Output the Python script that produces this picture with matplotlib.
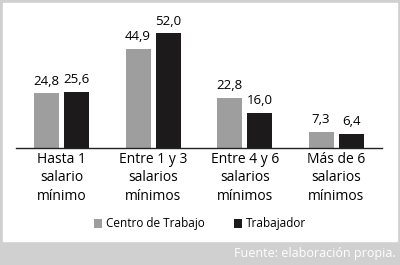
import numpy as np
import matplotlib.pyplot as plt
from matplotlib.patches import Rectangle

# datos
categorias = ['Hasta 1\nsalario\nmínimo', 'Entre 1 y 3\nsalarios\nmínimos',
              'Entre 4 y 6\nsalarios\nmínimos', 'Más de 6\nsalarios\nmínimos']
centro_trabajo = [24.8, 44.9, 22.8, 7.3]
trabajador = [25.6, 52.0, 16.0, 6.4]
series = ['Centro de Trabajo', 'Trabajador']

gris = '#9e9e9e'
negro = '#1c1a1b'
plt.rcParams['font.family'] = ['Open Sans', 'DejaVu Sans']

fig = plt.figure(figsize=(4, 2.65), dpi=100, facecolor='#d0d0d0')
# panel blanco detras de todo
fig.patches.append(Rectangle((3/400, 1-241/265), 394/400, 238/265,
                             transform=fig.transFigure, color='white', zorder=-10))

ax = fig.add_axes([16/400, 1-148/265, 366/400, 128/265])
ax.set_facecolor('none')
x = np.arange(len(categorias))
w = 0.27
b1 = ax.bar(x - w/2 - 0.03, centro_trabajo, w, color=gris, label=series[0])
b2 = ax.bar(x + w/2 + 0.03, trabajador, w, color=negro, label=series[1])

fmt = lambda v: f'{v:.1f}'.replace('.', ',')
for barras, vals in [(b1, centro_trabajo), (b2, trabajador)]:
    for b, v in zip(barras, vals):
        ax.annotate(fmt(v), (b.get_x() + b.get_width()/2, v), xytext=(0, 4),
                    textcoords='offset points', ha='center', va='bottom', fontsize=9.5)

ax.set_xlim(-0.5, 3.5)
ax.set_ylim(0, 58)
ax.set_xticks(x)
ax.set_xticklabels(categorias, fontsize=10, linespacing=1.3)
ax.tick_params(axis='x', length=0, pad=3)
ax.set_yticks([])
for s in ['top', 'right', 'left']:
    ax.spines[s].set_visible(False)
ax.spines['bottom'].set_color('#222222')
ax.spines['bottom'].set_linewidth(1.0)

fig.legend(handles=[b1, b2], loc='center', bbox_to_anchor=(0.5, 1-224/265), ncol=2,
           frameon=False, fontsize=8.5, handlelength=0.7, handleheight=0.7,
           handletextpad=0.3, columnspacing=2.5)

fig.text(396/400, 1-254/265, 'Fuente: elaboración propia.', color='white',
         ha='right', va='center', fontsize=9)

fig.savefig('out.png', dpi=100, facecolor=fig.get_facecolor())
